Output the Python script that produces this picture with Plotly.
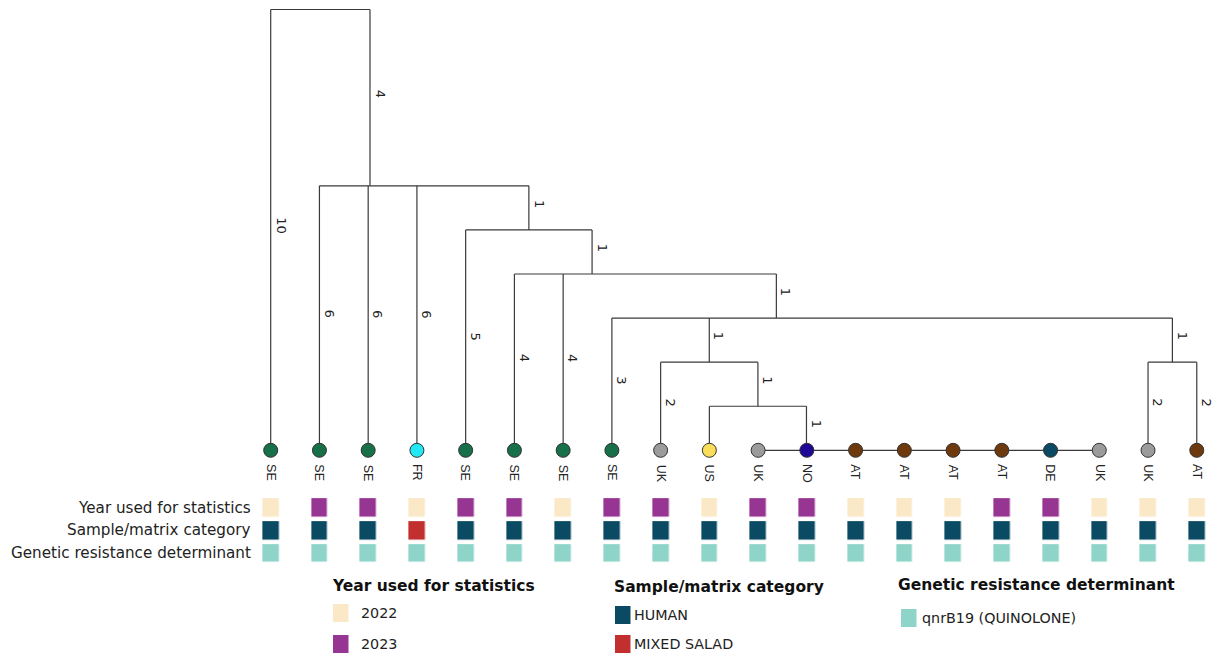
import plotly.graph_objects as go

W, H = 1213, 657

# ---------------- data ----------------
leaf_countries = ["SE", "SE", "SE", "FR", "SE", "SE", "SE", "SE", "UK", "US",
                  "UK", "NO", "AT", "AT", "AT", "AT", "DE", "UK", "UK", "AT"]
year_used = ["2022", "2023", "2023", "2022", "2023", "2023", "2022", "2023", "2023", "2022",
             "2023", "2023", "2022", "2022", "2022", "2023", "2023", "2022", "2022", "2022"]
sample_category = ["HUMAN", "HUMAN", "HUMAN", "MIXED SALAD", "HUMAN", "HUMAN", "HUMAN", "HUMAN",
                   "HUMAN", "HUMAN", "HUMAN", "HUMAN", "HUMAN", "HUMAN", "HUMAN", "HUMAN",
                   "HUMAN", "HUMAN", "HUMAN", "HUMAN"]
resistance_determinant = ["qnrB19 (QUINOLONE)"] * 20

# tree topology: internal node -> children (ints are leaf indices)
internal_children = {
    "root": [0, "a"],
    "a": [1, 2, 3, "b"],
    "b": [4, "c"],
    "c": [5, 6, "d"],
    "d": [7, "e", "h"],
    "e": [8, "f"],
    "f": [9, "g"],
    "g": [10, 11, 12, 13, 14, 15, 16, 17],
    "h": [18, 19],
}
# allelic distance on the edge leading to each node
branch_length = {
    0: 10, "a": 4, 1: 6, 2: 6, 3: 6, "b": 1, 4: 5, "c": 1, 5: 4, 6: 4,
    "d": 1, 7: 3, "e": 1, "h": 1, 8: 2, "f": 1, 9: 1, "g": 1,
    10: 0, 11: 0, 12: 0, 13: 0, 14: 0, 15: 0, 16: 0, 17: 0, 18: 2, 19: 2,
}
unlabelled_edges = [9]

country_colors = {"SE": "#17704a", "FR": "#22e8f4", "UK": "#9b9b9b", "US": "#fbdd5c",
                  "NO": "#1f0896", "AT": "#6e3a0d", "DE": "#0b4a62"}
categories = ["2022", "2023", "HUMAN", "MIXED SALAD", "qnrB19 (QUINOLONE)"]
category_colors = ["#fbe8c6", "#973593", "#0a4a63", "#c22f2f", "#8fd4c8"]
row_titles = ["Year used for statistics", "Sample/matrix category", "Genetic resistance determinant"]
legend_groups = [
    ("Year used for statistics", ["2022", "2023"]),
    ("Sample/matrix category", ["HUMAN", "MIXED SALAD"]),
    ("Genetic resistance determinant", ["qnrB19 (QUINOLONE)"]),
]

# ---------------- layout helpers ----------------
X0, X1 = -5.554, 19.333
D0, D1 = -0.2155, 14.689


def py2d(py):
    return D0 + py / H * (D1 - D0)


depths, xpos = {}, {}


def place(node, depth):
    depths[node] = depth
    if node in internal_children:
        kids = internal_children[node]
        for c in kids:
            place(c, depth + branch_length[c])
        xs = [xpos[c] for c in kids]
        x = xs[-1]
        for v in reversed(xs[:-1]):
            x = (v + x) / 2
        xpos[node] = x
    else:
        xpos[node] = node


place("root", 0)

lx, ly = [], []
annotations = []
for node, kids in internal_children.items():
    xs = [xpos[c] for c in kids]
    lx += [min(xs), max(xs), None]
    ly += [depths[node], depths[node], None]
    for c in kids:
        lx += [xpos[c], xpos[c], None]
        ly += [depths[node], depths[c], None]
        if branch_length[c] > 0 and c not in unlabelled_edges:
            annotations.append(dict(
                x=xpos[c], y=(depths[node] + depths[c]) / 2, xref="x", yref="y",
                text=str(branch_length[c]), showarrow=False, textangle=90,
                xshift=10, yshift=4, font=dict(family="DejaVu Sans", size=13, color="#222")))

fig = go.Figure()
fig.add_trace(go.Scatter(x=lx, y=ly, mode="lines", line=dict(color="#3a3a3a", width=1.2),
                         hoverinfo="skip", showlegend=False))

leaf_idx = list(range(len(leaf_countries)))
fig.add_trace(go.Scatter(
    x=[xpos[i] for i in leaf_idx], y=[depths[i] for i in leaf_idx], mode="markers",
    marker=dict(size=14, color=[country_colors[c] for c in leaf_countries],
                line=dict(color="#333", width=1)),
    text=leaf_countries, hoverinfo="text", showlegend=False))

for i, c in enumerate(leaf_countries):
    annotations.append(dict(x=xpos[i], y=depths[i], xref="x", yref="y", text=c,
                            showarrow=False, textangle=90, yanchor="top", yshift=-12,
                            font=dict(family="Liberation Sans", size=12.5, color="#222")))

# metadata rows
row_py = [507.5, 530.3, 553.0]
cat_index = {c: k for k, c in enumerate(categories)}
z = [[cat_index[v] for v in year_used],
     [cat_index[v] for v in sample_category],
     [cat_index[v] for v in resistance_determinant]]
n = len(categories)
colorscale = []
for k, col in enumerate(category_colors):
    colorscale += [[k / n, col], [(k + 1) / n, col]]
fig.add_trace(go.Heatmap(z=z, x=leaf_idx, y=[py2d(p) for p in row_py], colorscale=colorscale,
                         zmin=0, zmax=n - 1, showscale=False, xgap=32.5, ygap=4.5,
                         hoverinfo="skip"))

for t, p in zip(row_titles, row_py):
    annotations.append(dict(x=252.5 / W, xref="paper", y=py2d(p), yref="y", text=t,
                            showarrow=False, xanchor="right", yanchor="middle",
                            font=dict(family="DejaVu Sans", size=15.2, color="#222")))

# legend blocks
group_left = [330, 612, 896]
title_py = [586, 587, 585]
swatch_left = [333, 615, 901]
text_left = [359, 632, 920]
item_py = [[613, 644], [615, 644], [618]]
shapes = []
for g, (title, items) in enumerate(legend_groups):
    annotations.append(dict(x=group_left[g] / W, xref="paper", y=1 - title_py[g] / H, yref="paper",
                            text="<b>" + title + "</b>", showarrow=False, xanchor="left",
                            yanchor="middle", font=dict(family="DejaVu Sans", size=15.5, color="#111")))
    for it, py in zip(items, item_py[g]):
        col = category_colors[cat_index[it]]
        shapes.append(dict(type="rect", xref="paper", yref="paper",
                           x0=swatch_left[g] / W, x1=(swatch_left[g] + 15.5) / W,
                           y0=1 - (py - 9) / H, y1=1 - (py + 9) / H,
                           fillcolor=col, line=dict(width=0)))
        annotations.append(dict(x=text_left[g] / W, xref="paper", y=1 - py / H, yref="paper",
                                text=it, showarrow=False, xanchor="left", yanchor="middle",
                                font=dict(family="DejaVu Sans", size=14.3, color="#222")))

fig.update_layout(
    width=W, height=H, autosize=False, margin=dict(l=0, r=0, t=0, b=0),
    paper_bgcolor="white", plot_bgcolor="white", showlegend=False,
    xaxis=dict(range=[X0, X1], visible=False, fixedrange=True),
    yaxis=dict(range=[D1, D0], visible=False, fixedrange=True),
    annotations=annotations, shapes=shapes,
)
fig.write_html("out.html", config={"displayModeBar": False},
               post_script="document.body.style.margin='0';document.body.style.overflow='hidden';")
